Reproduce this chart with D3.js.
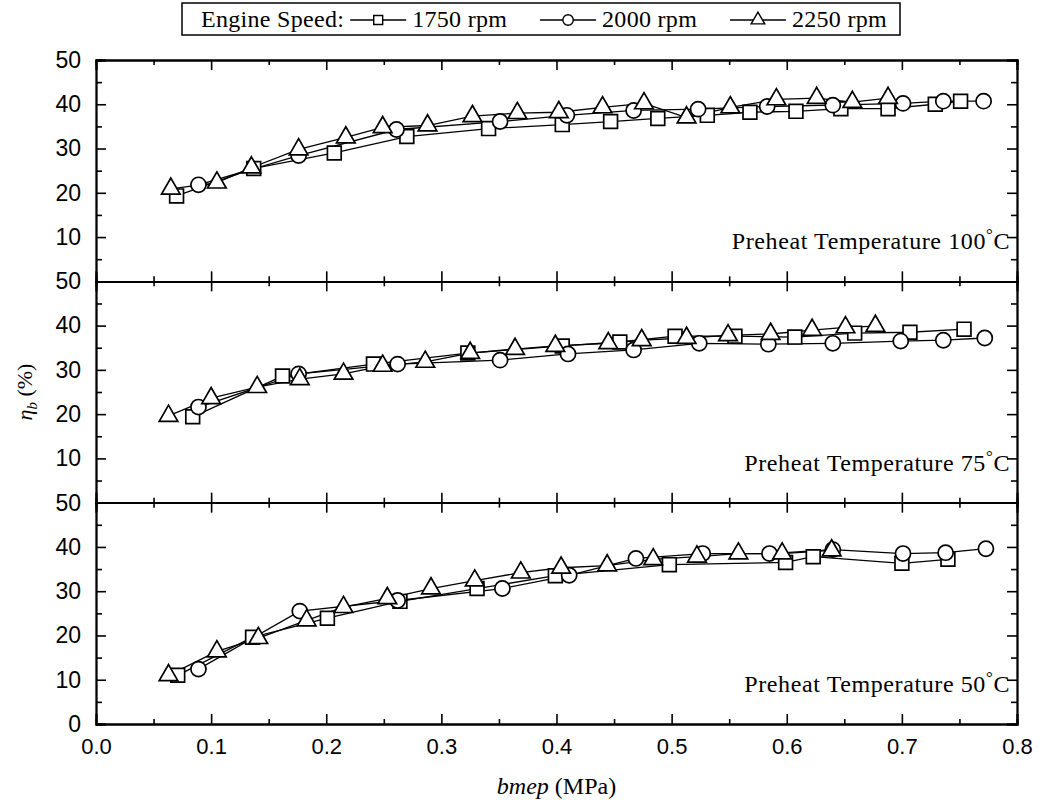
<!DOCTYPE html>
<html>
<head>
<meta charset="utf-8">
<script src="https://cdn.jsdelivr.net/npm/d3@7"></script>
<style>
  body { margin: 0; background: #fff; }
  .tick text { font-family: "Liberation Sans", Arial, sans-serif; }
</style>
</head>
<body>
<svg id="chart" width="1042" height="809"></svg>
<script>

// ---- data: bmep (MPa) and brake efficiency (%) ----
const speeds = ["1750 rpm", "2000 rpm", "2250 rpm"];
const preheats = ["100", "75", "50"];

const bmep_100_1750 = [0.070, 0.137, 0.207, 0.270, 0.341, 0.405, 0.447, 0.488, 0.531, 0.568, 0.608, 0.647, 0.688, 0.729, 0.751];
const eta_100_1750  = [19.3, 25.5, 29.0, 32.7, 34.5, 35.4, 36.1, 36.8, 37.5, 38.2, 38.4, 39.0, 39.0, 40.0, 40.7];
const bmep_100_2000 = [0.089, 0.176, 0.261, 0.351, 0.409, 0.467, 0.523, 0.583, 0.640, 0.701, 0.736, 0.771];
const eta_100_2000  = [21.8, 28.4, 34.3, 36.1, 37.5, 38.6, 38.9, 39.5, 39.8, 40.2, 40.7, 40.7];
const bmep_100_2250 = [0.065, 0.105, 0.135, 0.176, 0.217, 0.249, 0.288, 0.327, 0.366, 0.402, 0.440, 0.476, 0.513, 0.551, 0.591, 0.626, 0.657, 0.688];
const eta_100_2250  = [20.9, 22.3, 25.7, 29.8, 32.5, 34.8, 35.2, 37.3, 38.0, 38.2, 39.3, 40.2, 37.0, 39.3, 41.1, 41.4, 40.5, 41.4];

const bmep_75_1750 = [0.084, 0.162, 0.241, 0.323, 0.405, 0.455, 0.503, 0.555, 0.607, 0.659, 0.707, 0.754];
const eta_75_1750  = [19.4, 28.6, 31.3, 33.8, 35.4, 36.3, 37.6, 37.6, 37.4, 38.3, 38.5, 39.2];
const bmep_75_2000 = [0.089, 0.176, 0.262, 0.351, 0.410, 0.467, 0.524, 0.584, 0.640, 0.699, 0.736, 0.772];
const eta_75_2000  = [21.6, 29.1, 31.3, 32.2, 33.6, 34.5, 36.0, 35.8, 36.0, 36.5, 36.7, 37.2];
const bmep_75_2250 = [0.063, 0.100, 0.140, 0.177, 0.215, 0.249, 0.286, 0.325, 0.364, 0.399, 0.445, 0.474, 0.513, 0.549, 0.586, 0.622, 0.651, 0.677];
const eta_75_2250  = [19.6, 23.6, 26.1, 27.9, 29.1, 30.9, 31.8, 33.8, 34.7, 35.4, 36.0, 36.7, 37.2, 37.8, 38.1, 39.0, 39.6, 39.9];

const bmep_50_1750 = [0.071, 0.136, 0.201, 0.264, 0.331, 0.399, 0.498, 0.599, 0.623, 0.700, 0.740];
const eta_50_1750  = [11.0, 19.6, 23.9, 27.7, 30.6, 33.5, 36.0, 36.5, 37.8, 36.3, 37.2];
const bmep_50_2000 = [0.089, 0.177, 0.262, 0.353, 0.411, 0.469, 0.527, 0.585, 0.640, 0.701, 0.738, 0.773];
const eta_50_2000  = [12.4, 25.5, 27.9, 30.6, 33.6, 37.4, 38.5, 38.5, 39.4, 38.5, 38.7, 39.6];
const bmep_50_2250 = [0.063, 0.105, 0.141, 0.183, 0.215, 0.253, 0.291, 0.329, 0.369, 0.404, 0.444, 0.484, 0.522, 0.558, 0.596, 0.639];
const eta_50_2250  = [11.0, 16.4, 19.4, 23.4, 26.4, 28.4, 30.6, 32.4, 34.2, 35.3, 35.8, 37.2, 37.8, 38.5, 38.5, 39.2];

const xTicks = [0.0, 0.1, 0.2, 0.3, 0.4, 0.5, 0.6, 0.7, 0.8];
const yTicks = [0, 10, 20, 30, 40, 50];

// ---- layout ----
const margin = { top: 60, right: 25, bottom: 85, left: 96 };
const width = 1042;
const height = 809;
const serif = "'Liberation Serif', 'Times New Roman', serif";
const sans = "'Liberation Sans', Arial, sans-serif";

const zip = (xs, ys) => xs.map((v, i) => ({ x: v, y: ys[i] }));
const panels = [
  { temp: preheats[0], series: [zip(bmep_100_1750, eta_100_1750), zip(bmep_100_2000, eta_100_2000), zip(bmep_100_2250, eta_100_2250)] },
  { temp: preheats[1], series: [zip(bmep_75_1750, eta_75_1750), zip(bmep_75_2000, eta_75_2000), zip(bmep_75_2250, eta_75_2250)] },
  { temp: preheats[2], series: [zip(bmep_50_1750, eta_50_1750), zip(bmep_50_2000, eta_50_2000), zip(bmep_50_2250, eta_50_2250)] },
];

const x = d3.scaleLinear().domain([0, 0.8]).range([margin.left, width - margin.right]);
const band = d3.scaleBand().domain(preheats).range([margin.top, 724]).padding(0);

const symbols = [
  d3.symbol().type(d3.symbolSquare).size(190),
  d3.symbol().type(d3.symbolCircle).size(180),
  d3.symbol().type(d3.symbolTriangle).size(150),
];

const svg = d3.select("#chart");
svg.append("rect").attr("width", width).attr("height", height).attr("fill", "#fff");

panels.forEach((p, pi) => {
  const top = band(p.temp);
  const bottom = top + band.bandwidth();
  const y = d3.scaleLinear().domain([0, 50]).range([bottom, top]);
  const g = svg.append("g").attr("class", "panel");

  // y axes, ticks pointing inward, left and right
  const yMinor = d3.range(5, 50, 10);
  g.append("g").attr("transform", `translate(${margin.left},0)`)
    .call(d3.axisRight(y).tickValues(yTicks).tickSize(10).tickFormat(""));
  g.append("g").attr("transform", `translate(${margin.left},0)`)
    .call(d3.axisRight(y).tickValues(yMinor).tickSize(6).tickFormat(""));
  g.append("g").attr("transform", `translate(${width - margin.right},0)`)
    .call(d3.axisLeft(y).tickValues(yTicks).tickSize(10).tickFormat(""));
  g.append("g").attr("transform", `translate(${width - margin.right},0)`)
    .call(d3.axisLeft(y).tickValues(yMinor).tickSize(6).tickFormat(""));

  // y labels (0 only on the bottom panel)
  const labs = pi === 2 ? yTicks : yTicks.filter((d) => d > 0);
  g.append("g").attr("transform", `translate(${margin.left},0)`)
    .call(d3.axisLeft(y).tickValues(labs).tickSize(0).tickPadding(15).tickFormat(d3.format("d")))
    .call((a) => a.select(".domain").remove())
    .call((a) => a.selectAll("text").attr("font-size", 23).attr("font-family", sans).attr("fill", "#000"));

  // x axes at top and bottom of each panel, ticks inward
  const xMinor = d3.range(0.05, 0.8, 0.1);
  g.append("g").attr("transform", `translate(0,${bottom})`)
    .call(d3.axisTop(x).tickValues(xTicks).tickSize(10).tickFormat(""));
  g.append("g").attr("transform", `translate(0,${bottom})`)
    .call(d3.axisTop(x).tickValues(xMinor).tickSize(5).tickFormat(""));
  g.append("g").attr("transform", `translate(0,${top})`)
    .call(d3.axisBottom(x).tickValues(xTicks).tickSize(10).tickFormat(""));
  g.append("g").attr("transform", `translate(0,${top})`)
    .call(d3.axisBottom(x).tickValues(xMinor).tickSize(5).tickFormat(""));

  // lines then hollow markers
  const line = d3.line().x((d) => x(d.x)).y((d) => y(d.y));
  p.series.forEach((s) => {
    g.append("path").datum(s).attr("d", line)
      .attr("fill", "none").attr("stroke", "#000").attr("stroke-width", 1.3);
  });
  p.series.forEach((s, si) => {
    g.selectAll(null).data(s).join("path")
      .attr("d", symbols[si])
      .attr("transform", (d) => `translate(${x(d.x)},${y(d.y)})`)
      .attr("fill", "#fff").attr("stroke", "#000").attr("stroke-width", 1.7);
  });

  // panel label
  const lab = g.append("text")
    .attr("x", width - margin.right - 7).attr("y", bottom - 32)
    .attr("text-anchor", "end").attr("font-family", serif).attr("font-size", 24)
    .attr("letter-spacing", 0.6);
  lab.append("tspan").text(`Preheat Temperature ${p.temp}`);
  lab.append("tspan").attr("dy", -9).attr("font-size", 17).text("°");
  lab.append("tspan").attr("dy", 9).text("C");
});

svg.selectAll(".domain").attr("stroke", "#000").attr("stroke-width", 1.8);
svg.selectAll(".tick line").attr("stroke", "#000").attr("stroke-width", 1.6);

// x labels on the bottom panel
svg.append("g").attr("transform", `translate(0,724)`)
  .call(d3.axisBottom(x).tickValues(xTicks).tickSize(0).tickPadding(14).tickFormat(d3.format(".1f")))
  .call((a) => a.select(".domain").remove())
  .call((a) => a.selectAll("text").attr("font-size", 22).attr("font-family", sans).attr("fill", "#000"));

// axis titles
const xt = svg.append("text").attr("x", (margin.left + width - margin.right) / 2).attr("y", 794)
  .attr("text-anchor", "middle").attr("font-family", serif).attr("font-size", 24);
xt.append("tspan").attr("font-style", "italic").text("bmep");
xt.append("tspan").text(" (MPa)");

const yt = svg.append("text").attr("transform", "translate(32,392) rotate(-90)")
  .attr("text-anchor", "middle").attr("font-family", serif).attr("font-size", 22);
yt.append("tspan").attr("font-style", "italic").text("η");
yt.append("tspan").attr("font-style", "italic").attr("font-size", 15).attr("dy", 5).text("b");
yt.append("tspan").attr("dy", -5).text(" (%)");

// legend: lay out items, then spread the gaps so the row ends near the box edge
const legend = svg.append("g").attr("class", "legend");
legend.append("rect")
  .attr("x", 182).attr("y", 3).attr("width", 718).attr("height", 32)
  .attr("fill", "#fff").attr("stroke", "#000").attr("stroke-width", 1.5);
const base = 27;
const mid = base - 7;
const startX = 201;
const endX = 887;
const symW = 56;
const legendSymbols = [
  d3.symbol().type(d3.symbolSquare).size(80),
  d3.symbol().type(d3.symbolCircle).size(85),
  d3.symbol().type(d3.symbolTriangle).size(80),
];
const mkText = (s) => legend.append("text").attr("y", base)
  .attr("font-family", serif).attr("font-size", 24).attr("letter-spacing", 0.3).text(s);
const head = mkText("Engine Speed:");
const labels = speeds.map(mkText);
const natural = head.node().getComputedTextLength()
  + d3.sum(labels, (t) => t.node().getComputedTextLength()) + 3 * symW + 3 * 2 * 6;
const gap = (endX - startX - natural) / 2;
let cx = startX;
head.attr("x", cx);
cx += head.node().getComputedTextLength() + 6;
speeds.forEach((s, i) => {
  legend.append("line").attr("x1", cx).attr("x2", cx + symW).attr("y1", mid).attr("y2", mid)
    .attr("stroke", "#000").attr("stroke-width", 1.4);
  legend.append("path").attr("d", legendSymbols[i])
    .attr("transform", `translate(${cx + symW / 2},${mid})`)
    .attr("fill", "#fff").attr("stroke", "#000").attr("stroke-width", 1.4);
  cx += symW + 6;
  labels[i].attr("x", cx);
  cx += labels[i].node().getComputedTextLength() + 6 + gap;
});

</script>
</body>
</html>
